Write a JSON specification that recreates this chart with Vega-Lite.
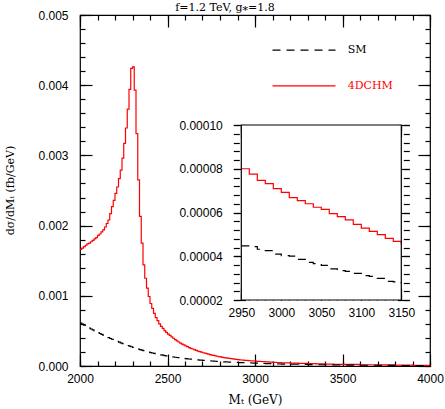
{
"$schema": "https://vega.github.io/schema/vega-lite/v6.json",
"width": 350, "height": 351,
"autosize": {"type": "none"},
"padding": {"left": 80, "top": 15, "right": 15, "bottom": 43},
"background": "white",
"config": {"view": {"stroke": "black", "strokeWidth": 1.2},
 "axis": {"domain": false, "tickColor": "black", "tickWidth": 1.2, "labelFont": "Liberation Sans", "labelFontSize": 12, "labelColor": "black", "grid": false, "titleFont": "DejaVu Serif", "titleFontSize": 11, "titleFontWeight": "normal", "titleColor": "black", "labelFlush": false, "labelOverlap": false}},
"title": {"text": "f=1.2 TeV, g⁎=1.8", "font": "DejaVu Serif", "fontSize": 11, "fontWeight": "normal", "color": "black", "offset": 4, "dy": 8, "dx": -30},
"datasets": {"h": [
{"m":2000,"s":6.10e-4,"d":1.66e-3},{"m":2010,"s":5.96e-4,"d":1.68e-3},{"m":2020,"s":5.82e-4,"d":1.70e-3},{"m":2030,"s":5.68e-4,"d":1.72e-3},{"m":2040,"s":5.54e-4,"d":1.74e-3},{"m":2050,"s":5.40e-4,"d":1.75e-3},{"m":2060,"s":5.27e-4,"d":1.77e-3},{"m":2070,"s":5.14e-4,"d":1.79e-3},{"m":2080,"s":5.01e-4,"d":1.81e-3},{"m":2090,"s":4.88e-4,"d":1.83e-3},
{"m":2100,"s":4.75e-4,"d":1.86e-3},{"m":2110,"s":4.63e-4,"d":1.88e-3},{"m":2120,"s":4.51e-4,"d":1.91e-3},{"m":2130,"s":4.39e-4,"d":1.94e-3},{"m":2140,"s":4.27e-4,"d":1.98e-3},{"m":2150,"s":4.15e-4,"d":2.03e-3},{"m":2160,"s":4.04e-4,"d":2.08e-3},{"m":2170,"s":3.92e-4,"d":2.17e-3},{"m":2180,"s":3.81e-4,"d":2.27e-3},{"m":2190,"s":3.70e-4,"d":2.36e-3},
{"m":2200,"s":3.60e-4,"d":2.46e-3},{"m":2210,"s":3.50e-4,"d":2.55e-3},{"m":2220,"s":3.40e-4,"d":2.67e-3},{"m":2230,"s":3.30e-4,"d":2.79e-3},{"m":2240,"s":3.20e-4,"d":2.96e-3},{"m":2250,"s":3.10e-4,"d":3.17e-3},{"m":2260,"s":3.01e-4,"d":3.39e-3},{"m":2270,"s":2.92e-4,"d":3.66e-3},{"m":2280,"s":2.83e-4,"d":3.94e-3},{"m":2290,"s":2.74e-4,"d":4.24e-3},
{"m":2300,"s":2.65e-4,"d":4.26e-3},{"m":2310,"s":2.57e-4,"d":3.93e-3},{"m":2320,"s":2.49e-4,"d":3.31e-3},{"m":2330,"s":2.41e-4,"d":2.65e-3},{"m":2340,"s":2.33e-4,"d":2.13e-3},{"m":2350,"s":2.25e-4,"d":1.75e-3},{"m":2360,"s":2.18e-4,"d":1.44e-3},{"m":2370,"s":2.11e-4,"d":1.25e-3},{"m":2380,"s":2.04e-4,"d":1.11e-3},{"m":2390,"s":1.97e-4,"d":9.9e-4},
{"m":2400,"s":1.90e-4,"d":8.9e-4},{"m":2410,"s":1.85e-4,"d":8.2e-4},{"m":2420,"s":1.79e-4,"d":7.5e-4},{"m":2430,"s":1.74e-4,"d":6.9e-4},{"m":2440,"s":1.68e-4,"d":6.45e-4},{"m":2450,"s":1.63e-4,"d":6.0e-4},{"m":2460,"s":1.58e-4,"d":5.65e-4},{"m":2470,"s":1.54e-4,"d":5.35e-4},{"m":2480,"s":1.49e-4,"d":5.05e-4},{"m":2490,"s":1.45e-4,"d":4.8e-4},
{"m":2500,"s":1.40e-4,"d":4.55e-4},{"m":2510,"s":1.36e-4,"d":4.35e-4},{"m":2520,"s":1.32e-4,"d":4.15e-4},{"m":2530,"s":1.28e-4,"d":3.95e-4},{"m":2540,"s":1.25e-4,"d":3.75e-4},{"m":2550,"s":1.21e-4,"d":3.58e-4},{"m":2560,"s":1.18e-4,"d":3.42e-4},{"m":2570,"s":1.14e-4,"d":3.27e-4},{"m":2580,"s":1.11e-4,"d":3.13e-4},{"m":2590,"s":1.08e-4,"d":3.0e-4},
{"m":2600,"s":1.05e-4,"d":2.88e-4},{"m":2610,"s":1.02e-4,"d":2.76e-4},{"m":2620,"s":1.00e-4,"d":2.63e-4},{"m":2630,"s":9.7e-5,"d":2.52e-4},{"m":2640,"s":9.5e-5,"d":2.42e-4},{"m":2650,"s":9.2e-5,"d":2.32e-4},{"m":2660,"s":9.0e-5,"d":2.22e-4},{"m":2670,"s":8.8e-5,"d":2.13e-4},{"m":2680,"s":8.5e-5,"d":2.05e-4},{"m":2690,"s":8.3e-5,"d":1.97e-4},
{"m":2700,"s":8.1e-5,"d":1.89e-4},{"m":2710,"s":7.9e-5,"d":1.82e-4},{"m":2720,"s":7.7e-5,"d":1.75e-4},{"m":2730,"s":7.5e-5,"d":1.68e-4},{"m":2740,"s":7.3e-5,"d":1.62e-4},{"m":2750,"s":7.1e-5,"d":1.56e-4},{"m":2760,"s":6.9e-5,"d":1.5e-4},{"m":2770,"s":6.8e-5,"d":1.44e-4},{"m":2780,"s":6.6e-5,"d":1.39e-4},{"m":2790,"s":6.5e-5,"d":1.34e-4},
{"m":2800,"s":6.3e-5,"d":1.29e-4},{"m":2810,"s":6.2e-5,"d":1.24e-4},{"m":2820,"s":6.0e-5,"d":1.2e-4},{"m":2830,"s":5.9e-5,"d":1.16e-4},{"m":2840,"s":5.7e-5,"d":1.12e-4},{"m":2850,"s":5.6e-5,"d":1.08e-4},{"m":2860,"s":5.5e-5,"d":1.04e-4},{"m":2870,"s":5.3e-5,"d":1.01e-4},{"m":2880,"s":5.2e-5,"d":9.7e-5},{"m":2890,"s":5.1e-5,"d":9.4e-5},
{"m":2900,"s":5.0e-5,"d":9.1e-5},{"m":2910,"s":4.9e-5,"d":8.8e-5},{"m":2920,"s":4.8e-5,"d":8.55e-5},{"m":2930,"s":4.7e-5,"d":8.3e-5},{"m":2940,"s":4.58e-5,"d":8.15e-5},{"m":2950,"s":4.47e-5,"d":8.0e-5},{"m":2960,"s":4.44e-5,"d":7.75e-5},{"m":2970,"s":4.32e-5,"d":7.47e-5},{"m":2980,"s":4.26e-5,"d":7.32e-5},{"m":2990,"s":4.1e-5,"d":7.09e-5},
{"m":3000,"s":4.03e-5,"d":6.92e-5},{"m":3010,"s":4.01e-5,"d":6.68e-5},{"m":3020,"s":3.86e-5,"d":6.54e-5},{"m":3030,"s":3.72e-5,"d":6.4e-5},{"m":3040,"s":3.66e-5,"d":6.24e-5},{"m":3050,"s":3.58e-5,"d":6.14e-5},{"m":3060,"s":3.42e-5,"d":5.95e-5},{"m":3070,"s":3.34e-5,"d":5.81e-5},{"m":3080,"s":3.31e-5,"d":5.66e-5},{"m":3090,"s":3.22e-5,"d":5.46e-5},
{"m":3100,"s":3.11e-5,"d":5.29e-5},{"m":3110,"s":3.08e-5,"d":5.14e-5},{"m":3120,"s":2.99e-5,"d":4.99e-5},{"m":3130,"s":2.85e-5,"d":4.82e-5},{"m":3140,"s":2.83e-5,"d":4.68e-5},{"m":3150,"s":2.75e-5,"d":4.55e-5},
{"m":3200,"s":2.5e-5,"d":4.1e-5},{"m":3250,"s":2.2e-5,"d":3.7e-5},{"m":3300,"s":2.0e-5,"d":3.3e-5},{"m":3350,"s":1.8e-5,"d":3.0e-5},{"m":3400,"s":1.6e-5,"d":2.7e-5},{"m":3450,"s":1.45e-5,"d":2.4e-5},{"m":3500,"s":1.3e-5,"d":2.2e-5},{"m":3600,"s":1.05e-5,"d":1.8e-5},{"m":3700,"s":8.5e-6,"d":1.5e-5},{"m":3800,"s":7.0e-6,"d":1.2e-5},{"m":3900,"s":5.8e-6,"d":1.0e-5},{"m":4000,"s":4.8e-6,"d":8.0e-6}
]},
"layer": [
 {
  "layer": [
   {"data": {"name": "h"},
    "mark": {"type": "line", "interpolate": "step-after", "color": "#ff0000", "strokeWidth": 1.2},
    "encoding": {
     "x": {"field": "m", "type": "quantitative", "scale": {"domain": [2000, 4000], "zero": false},
      "axis": {"orient": "bottom", "offset": -12, "tickSize": 12, "values": [2000,2500,3000,3500,4000], "format": "d", "labelPadding": 7,
       "title": "Mₜ (GeV)", "titleY": 49, "titleBaseline": "alphabetic", "titleFontSize": 12}},
     "y": {"field": "d", "type": "quantitative", "scale": {"domain": [0, 0.005]},
      "axis": {"orient": "left", "offset": -12, "tickSize": 12, "values": [0,0.001,0.002,0.003,0.004,0.005], "format": ".3f", "labelPadding": 12,
       "title": "dσ/dMₜ (fb/GeV)", "titleX": -82, "titleY": 175, "titleAngle": -90, "titleBaseline": "middle", "titleAlign": "center"}}
    }},
   {"data": {"name": "h"},
    "mark": {"type": "line", "interpolate": "step-after", "color": "black", "strokeWidth": 1.2, "strokeDash": [8, 6]},
    "encoding": {
     "x": {"field": "m", "type": "quantitative",
      "axis": {"orient": "bottom", "offset": -5, "tickSize": 5, "labels": false, "title": null, "values": [2000,2100,2200,2300,2400,2500,2600,2700,2800,2900,3000,3100,3200,3300,3400,3500,3600,3700,3800,3900,4000]}},
     "y": {"field": "s", "type": "quantitative",
      "axis": {"orient": "left", "offset": -5, "tickSize": 5, "labels": false, "title": null, "values": [0,0.0002,0.0004,0.0006,0.0008,0.001,0.0012,0.0014,0.0016,0.0018,0.002,0.0022,0.0024,0.0026,0.0028,0.003,0.0032,0.0034,0.0036,0.0038,0.004,0.0042,0.0044,0.0046,0.0048,0.005]}}
    }},
   {"data": {"values": [{}]},
    "mark": {"type": "rule", "color": "black", "strokeWidth": 1.2, "strokeDash": [8, 6]},
    "encoding": {
     "x": {"datum": 3100, "type": "quantitative",
      "axis": {"orient": "top", "offset": -12, "tickSize": 12, "labels": false, "title": null, "values": [2000,2500,3000,3500,4000]}},
     "x2": {"datum": 3460},
     "y": {"datum": 0.0045, "type": "quantitative",
      "axis": {"orient": "right", "offset": -12, "tickSize": 12, "labels": false, "title": null, "values": [0,0.001,0.002,0.003,0.004,0.005]}}}},
   {"data": {"values": [{}]},
    "mark": {"type": "rule", "color": "#ff0000", "strokeWidth": 1.2},
    "encoding": {
     "x": {"datum": 3100, "type": "quantitative",
      "axis": {"orient": "top", "offset": -5, "tickSize": 5, "labels": false, "title": null, "values": [2000,2100,2200,2300,2400,2500,2600,2700,2800,2900,3000,3100,3200,3300,3400,3500,3600,3700,3800,3900,4000]}},
     "x2": {"datum": 3460},
     "y": {"datum": 0.00399, "type": "quantitative",
      "axis": {"orient": "right", "offset": -5, "tickSize": 5, "labels": false, "title": null, "values": [0,0.0002,0.0004,0.0006,0.0008,0.001,0.0012,0.0014,0.0016,0.0018,0.002,0.0022,0.0024,0.0026,0.0028,0.003,0.0032,0.0034,0.0036,0.0038,0.004,0.0042,0.0044,0.0046,0.0048,0.005]}}}},
   {"data": {"values": [{"label": "SM"}]},
    "mark": {"type": "text", "align": "left", "baseline": "middle", "font": "DejaVu Serif", "fontSize": 11, "color": "black"},
    "encoding": {"x": {"datum": 3530, "type": "quantitative", "axis": null}, "y": {"datum": 0.0045, "type": "quantitative", "axis": null}, "text": {"field": "label"}}},
   {"data": {"values": [{"label": "4DCHM"}]},
    "mark": {"type": "text", "align": "left", "baseline": "middle", "font": "DejaVu Serif", "fontSize": 11, "color": "#ff0000"},
    "encoding": {"x": {"datum": 3530, "type": "quantitative", "axis": null}, "y": {"datum": 0.00399, "type": "quantitative", "axis": null}, "text": {"field": "label"}}}
  ],
  "resolve": {"axis": {"x": "independent", "y": "independent"}}
 },
 {
  "layer": [
   {"data": {"values": [{}]},
    "mark": {"type": "rect", "fill": "white", "stroke": null},
    "encoding": {
     "x": {"datum": 2950, "type": "quantitative", "scale": {"domain": [2950, 3150], "range": [153.3, 329.3], "zero": false},
      "axis": {"orient": "bottom", "offset": -78, "tickSize": 12, "values": [2950,3000,3050,3100,3150], "format": "d", "labelPadding": 7, "title": null}},
     "x2": {"datum": 3150},
     "y": {"datum": 0.00002, "type": "quantitative", "scale": {"domain": [0.00002, 0.0001], "range": [285, 110], "zero": false},
      "axis": {"orient": "left", "offset": -165.3, "tickSize": 12, "values": [0.00002,0.00004,0.00006,0.00008,0.0001], "format": ".5f", "labelPadding": 11, "title": null}},
     "y2": {"datum": 0.0001}}},
   {"data": {"name": "h"},
    "transform": [{"filter": "datum.m >= 2950 && datum.m <= 3150"}],
    "mark": {"type": "line", "interpolate": "step-after", "color": "#ff0000", "strokeWidth": 1.2},
    "encoding": {
     "x": {"field": "m", "type": "quantitative",
      "axis": {"orient": "bottom", "offset": -72, "tickSize": 6, "labels": false, "title": null, "values": [2950,2960,2970,2980,2990,3000,3010,3020,3030,3040,3050,3060,3070,3080,3090,3100,3110,3120,3130,3140,3150]}},
     "y": {"field": "d", "type": "quantitative",
      "axis": {"orient": "left", "offset": -159.3, "tickSize": 6, "labels": false, "title": null, "values": [0.00002,0.000024,0.000028,0.000032,0.000036,0.00004,0.000044,0.000048,0.000052,0.000056,0.00006,0.000064,0.000068,0.000072,0.000076,0.00008,0.000084,0.000088,0.000092,0.000096,0.0001]}}
    }},
   {"data": {"name": "h"},
    "transform": [{"filter": "datum.m >= 2950 && datum.m <= 3150"}],
    "mark": {"type": "line", "interpolate": "step-after", "color": "black", "strokeWidth": 1.2, "strokeDash": [8, 6]},
    "encoding": {
     "x": {"field": "m", "type": "quantitative",
      "axis": {"orient": "top", "offset": -122, "tickSize": 12, "labels": false, "title": null, "values": [2950,3000,3050,3100,3150]}},
     "y": {"field": "s", "type": "quantitative",
      "axis": {"orient": "right", "offset": -32.7, "tickSize": 12, "labels": false, "title": null, "values": [0.00002,0.00004,0.00006,0.00008,0.0001]}}
    }},
   {"data": {"values": [{}]},
    "mark": {"type": "rect", "fill": null, "stroke": "black", "strokeWidth": 1.2},
    "encoding": {
     "x": {"datum": 2950, "type": "quantitative",
      "axis": {"orient": "top", "offset": -116, "tickSize": 6, "labels": false, "title": null, "values": [2950,2960,2970,2980,2990,3000,3010,3020,3030,3040,3050,3060,3070,3080,3090,3100,3110,3120,3130,3140,3150]}},
     "x2": {"datum": 3150},
     "y": {"datum": 0.00002, "type": "quantitative",
      "axis": {"orient": "right", "offset": -26.7, "tickSize": 6, "labels": false, "title": null, "values": [0.00002,0.000024,0.000028,0.000032,0.000036,0.00004,0.000044,0.000048,0.000052,0.000056,0.00006,0.000064,0.000068,0.000072,0.000076,0.00008,0.000084,0.000088,0.000092,0.000096,0.0001]}},
     "y2": {"datum": 0.0001}}}
  ],
  "resolve": {"axis": {"x": "independent", "y": "independent"}}
 }
],
"resolve": {"scale": {"x": "independent", "y": "independent"}}
}
